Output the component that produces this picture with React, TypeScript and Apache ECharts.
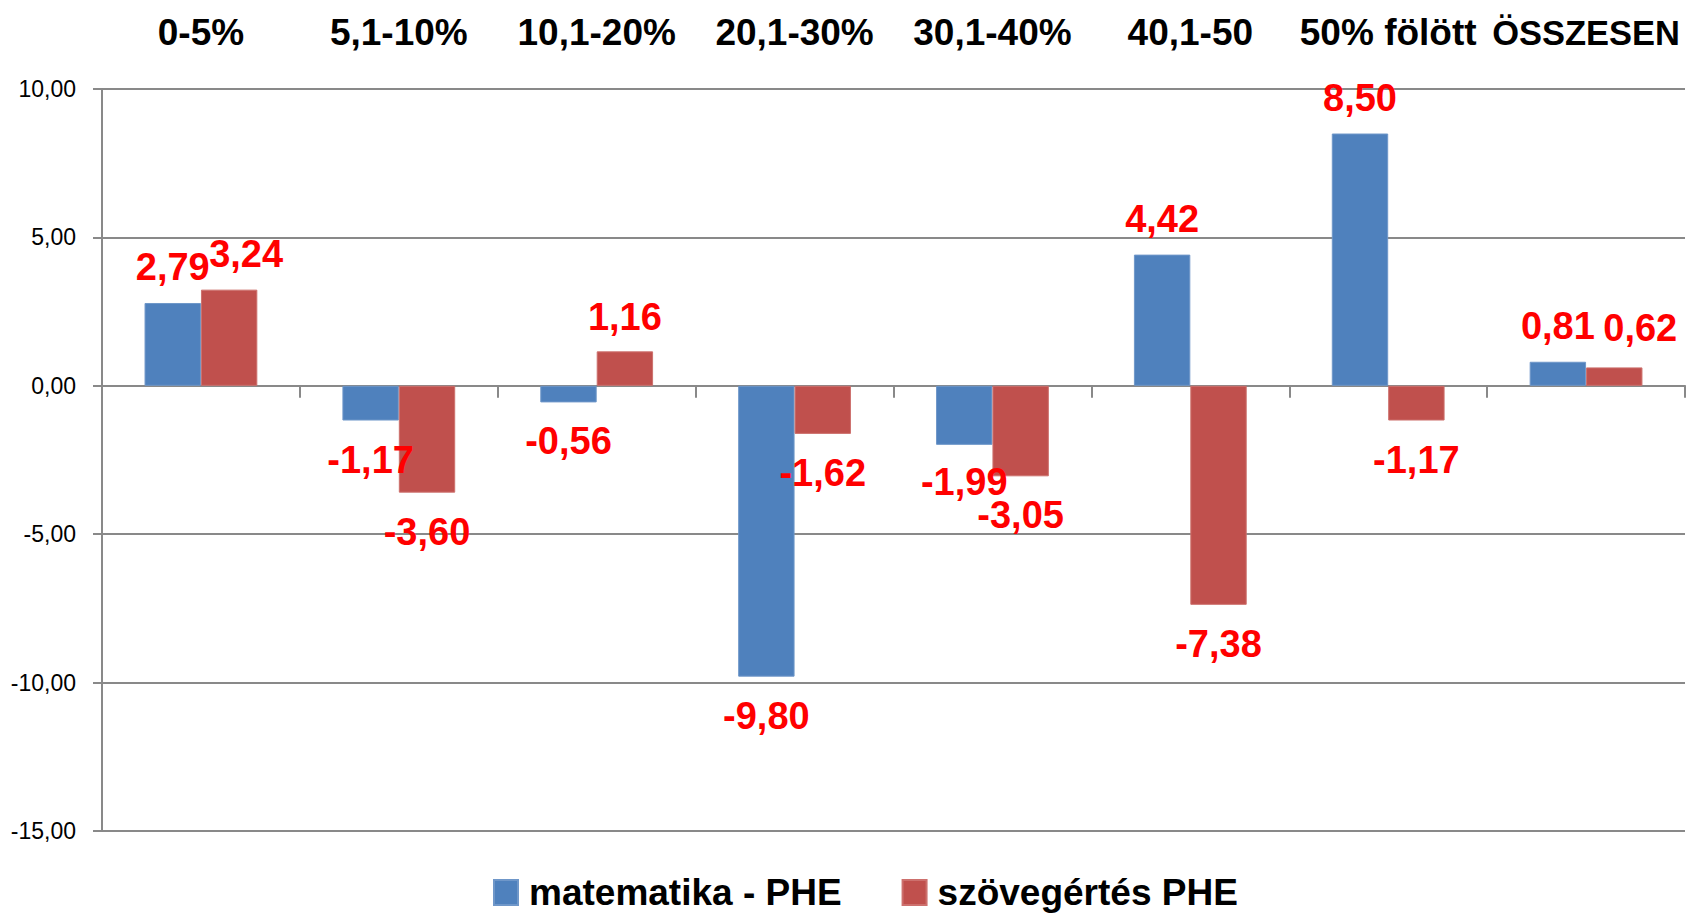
import React, { useEffect, useRef } from "react";
import * as echarts from "echarts";

const categories = ["0-5%", "5,1-10%", "10,1-20%", "20,1-30%", "30,1-40%", "40,1-50", "50% fölött", "ÖSSZESEN"];
const seriesNames = ["matematika - PHE", "szövegértés PHE"];
const matekValues = [2.79, -1.17, -0.56, -9.8, -1.99, 4.42, 8.5, 0.81];
const szovegValues = [3.24, -3.6, 1.16, -1.62, -3.05, -7.38, -1.17, 0.62];
const yMin = -15;
const yMax = 10;
const yStep = 5;

// label nudges (x, y) per bar, in pixels
const matekNudges = [[0, 0], [0, 0], [0, 0], [0, 0], [0, -2], [0, 0], [0, 0], [0, 0]];
const szovegNudges = [[17, 0], [0, 0], [0, 2], [0, 0], [0, 0], [0, 0], [0, 0], [26, -3]];

const FONT = "'Liberation Sans', Arial, sans-serif";
const fmt = (v: number) => v.toFixed(2).replace(".", ",");

function buildData(values: number[], nudges: number[][]) {
  return values.map((v, i) => ({
    value: v,
    label: {
      position: v >= 0 ? "top" : "bottom",
      distance: v >= 0 ? 17 : 20,
      offset: nudges[i],
    },
  }));
}

export default function App() {
  const ref = useRef<HTMLDivElement>(null);
  useEffect(() => {
    if (!ref.current) return;
    const chart = echarts.init(ref.current, null, { renderer: "svg" });
    const labelStyle = {
      show: true,
      color: "#FF0000",
      fontSize: 38,
      fontWeight: "bold",
      fontFamily: FONT,
      formatter: (p: any) => fmt(p.value),
    };
    const catTextStyle = { fontSize: 37, fontWeight: "bold", color: "#000", fontFamily: FONT };
    chart.setOption({
      animation: false,
      backgroundColor: "#ffffff",
      grid: { left: 102, right: 11, top: 89, bottom: 83, containLabel: false },
      legend: {
        data: seriesNames,
        left: 493,
        top: 874,
        icon: "rect",
        itemWidth: 24,
        itemHeight: 25,
        itemGap: 60,
        padding: 0,
        textStyle: { fontSize: 37, fontWeight: "bold", color: "#000", fontFamily: FONT, padding: [0, 0, 0, 6] },
      },
      xAxis: [
        {
          type: "category",
          data: categories,
          position: "bottom",
          axisLine: { show: true, onZero: true, lineStyle: { color: "#898989", width: 2 } },
          axisTick: { show: true, length: 12, alignWithLabel: false, lineStyle: { color: "#898989", width: 2 } },
          axisLabel: { show: false },
          splitLine: { show: false },
        },
        {
          type: "category",
          data: categories,
          position: "top",
          axisLine: { show: false, onZero: false },
          axisTick: { show: false },
          axisLabel: {
            show: true,
            margin: 38,
            interval: 0,
            ...catTextStyle,
            formatter: (v: string, i: number) => (i === categories.length - 1 ? `{n|${v}}` : v),
            rich: { n: { ...catTextStyle, fontSize: 34.5, padding: [0, 0, 1, 0] } },
          },
          splitLine: { show: false },
        },
      ],
      yAxis: {
        type: "value",
        min: yMin,
        max: yMax,
        interval: yStep,
        axisLine: { show: true, lineStyle: { color: "#898989", width: 2 } },
        axisTick: { show: true, length: 9, lineStyle: { color: "#898989", width: 2 } },
        axisLabel: { margin: 26, fontSize: 23, color: "#000", fontFamily: FONT, formatter: (v: number) => fmt(v) },
        splitLine: { show: true, lineStyle: { color: "#898989", width: 2 } },
      },
      series: [
        {
          name: seriesNames[0],
          type: "bar",
          xAxisIndex: 0,
          data: buildData(matekValues, matekNudges),
          barCategoryGap: "43%",
          barGap: "0%",
          itemStyle: { color: "#4F81BD", borderColor: "#6f97c9", borderWidth: 1 },
          label: labelStyle,
        },
        {
          name: seriesNames[1],
          type: "bar",
          xAxisIndex: 0,
          data: buildData(szovegValues, szovegNudges),
          barCategoryGap: "43%",
          barGap: "0%",
          itemStyle: { color: "#C0504D", borderColor: "#cd706d", borderWidth: 1 },
          label: labelStyle,
        },
      ],
    });
    return () => chart.dispose();
  }, []);
  return <div ref={ref} style={{ position: "absolute", left: 0, top: 0, width: 1696, height: 914 }} />;
}
